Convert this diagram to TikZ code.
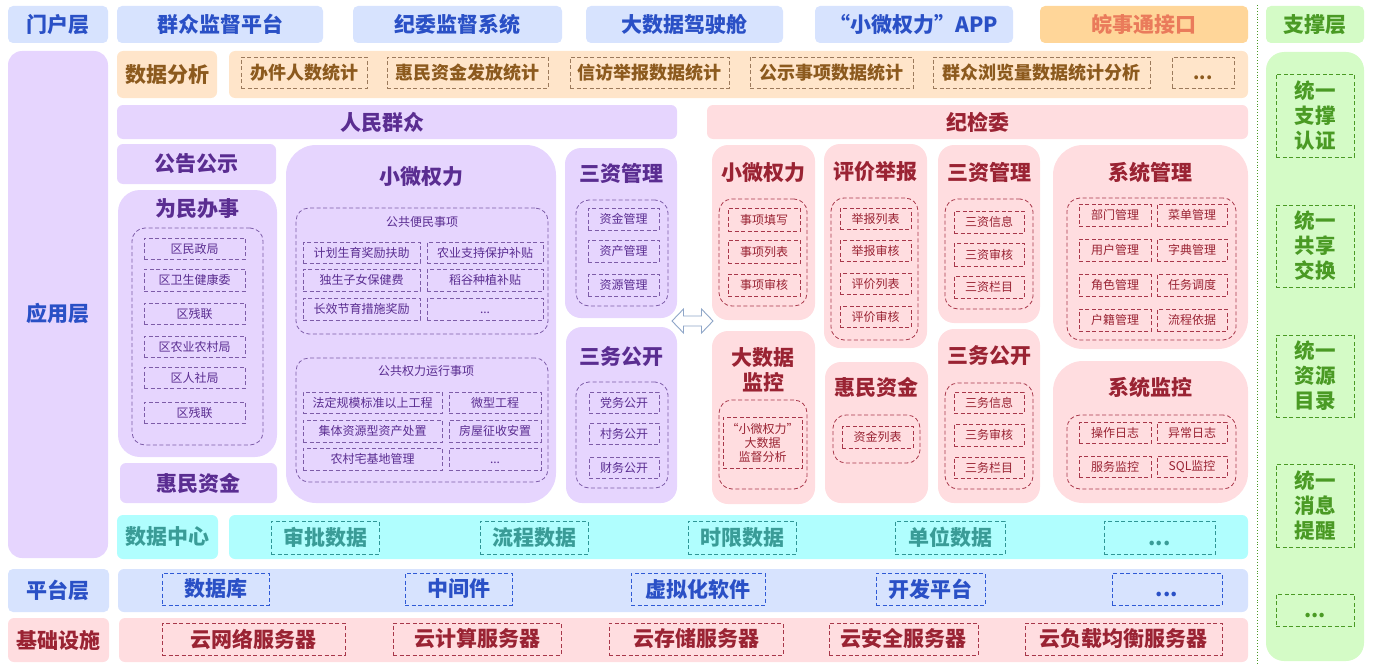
\documentclass[tikz,border=0pt]{standalone}
\usepackage{fontspec}
\setmainfont{Noto Sans CJK SC}
\definecolor{hblue}{HTML}{D7E3FE}
\definecolor{tblue}{HTML}{2A50C6}
\definecolor{dblue}{HTML}{2F5AD6}
\definecolor{peachf}{HTML}{FFE5CA}
\definecolor{tbrown}{HTML}{8C5A1E}
\definecolor{dbrown}{HTML}{9C7A5C}
\definecolor{lavf}{HTML}{E6D5FE}
\definecolor{tpurp}{HTML}{5A2D91}
\definecolor{dpurp}{HTML}{7D5CA8}
\definecolor{pinkf}{HTML}{FFDDE0}
\definecolor{tred}{HTML}{9A2333}
\definecolor{dred}{HTML}{A8374A}
\definecolor{cyanf}{HTML}{B0FEFE}
\definecolor{tteal}{HTML}{3A9C97}
\definecolor{dteal}{HTML}{2F9696}
\definecolor{greenf}{HTML}{D4FBC6}
\definecolor{tgreen}{HTML}{4A9A24}
\definecolor{orangef}{HTML}{FFD699}
\definecolor{torange}{HTML}{EA7B5B}
\definecolor{arrowc}{HTML}{8FA6C8}
\newcommand\ttlf{\bfseries\fontsize{21}{25}\selectfont}
\newcommand\mdf{\bfseries\fontsize{18}{22}\selectfont}
\newcommand\itf{\fontsize{12}{14.5}\selectfont}
\newcommand\dotsx{\vphantom{数}...}
\newcommand\bx[7]{%
  \pgfmathsetmacro\bw{#4-#2}\pgfmathsetmacro\bh{#5-#3}%
  \pgfmathsetmacro\bcx{(#2+#4)/2}\pgfmathsetmacro\bcy{(#3+#5)/2}%
  \node[base,#6,minimum width=\bw pt,minimum height=\bh pt] (#1) at (\bcx,\bcy) {#7};}
\tikzset{
  base/.style={inner sep=0pt,outer sep=0pt,align=center},
  hdr/.style={fill=hblue,rounded corners=5pt,text=tblue,font=\ttlf},
  lavbox/.style={fill=lavf,rounded corners=6pt},
  pinkbox/.style={fill=pinkf,rounded corners=6pt},
  ptitle/.style={base,text=tpurp,font=\ttlf},
  rtitle/.style={base,text=tred,font=\ttlf},
  dsh/.style={dash pattern=on 4pt off 2.5pt,line width=0.8pt},
  pin/.style={draw=dpurp,dsh,rounded corners=13pt},
  rin/.style={draw=dred,dsh,rounded corners=13pt},
  pitem/.style={draw=dpurp,dsh,text=tpurp,font=\itf},
  ritem/.style={draw=dred,dsh,text=tred,font=\itf},
  aitem/.style={draw=dbrown,dsh,text=tbrown,font=\mdf},
  citem/.style={draw=dteal,dsh,text=tteal,font=\ttlf},
  bitem/.style={draw=dblue,dsh,text=tblue,font=\ttlf},
  iitem/.style={draw=dred,dsh,text=tred,font=\ttlf},
  gitem/.style={draw=tgreen,dsh,text=tgreen,font=\bfseries\fontsize{20.5}{25}\selectfont},
}
\begin{document}
\begin{tikzpicture}[x=1pt,y=-1pt]
\useasboundingbox (0,0) rectangle (1373,669);
% ---------- portal layer ----------
\bx{mhc}{8}{6}{108}{43}{hdr}{门户层}
\bx{qz}{117}{6}{323}{43}{hdr}{群众监督平台}
\bx{jw}{353}{6}{562}{43}{hdr}{纪委监督系统}
\bx{dsj}{586}{6}{783}{43}{hdr}{大数据驾驶舱}
\bx{app}{815}{6}{1013}{43}{hdr}{“小微权力”APP}
\bx{wst}{1040}{6}{1248}{43}{hdr,fill=orangef,text=torange}{皖事通接口}
\bx{zcc}{1266}{6}{1364}{43}{hdr,fill=greenf,text=tgreen}{支撑层}
% ---------- separator ----------
\coordinate (sepT) at (1257,5);
\coordinate (sepB) at (1257,665);
\draw[tgreen,dotted,line width=0.9pt] (sepT) -- (sepB);
% ---------- support column ----------
\bx{zccol}{1266}{52}{1364}{661}{fill=greenf,rounded corners=18pt}{}
\bx{g1}{1276}{74}{1354}{157}{gitem}{统一\\支撑\\认证}
\bx{g2}{1276}{205}{1354}{287}{gitem}{统一\\共享\\交换}
\bx{g3}{1276}{335}{1354}{417}{gitem}{统一\\资源\\目录}
\bx{g4}{1276}{464}{1354}{547}{gitem}{统一\\消息\\提醒}
\bx{g5}{1276}{594}{1354}{626}{gitem}{\dotsx}
% ---------- application layer ----------
\bx{yyc}{8}{51}{108}{558}{fill=lavf,rounded corners=14pt}{}
\node[base,text=tblue,font=\ttlf] (yyct) at (58,313) {应用层};
\bx{sjfx}{117}{51}{217}{98}{fill=peachf,rounded corners=6pt,text=tbrown,font=\ttlf}{数据分析}
\bx{fxstrip}{229}{51}{1248}{98}{fill=peachf,rounded corners=6pt}{}
\bx{a1}{241}{57}{367}{88}{aitem}{办件人数统计}
\bx{a2}{387}{57}{548}{88}{aitem}{惠民资金发放统计}
\bx{a3}{570}{57}{729}{88}{aitem}{信访举报数据统计}
\bx{a4}{750}{57}{913}{88}{aitem}{公示事项数据统计}
\bx{a5}{933}{57}{1150}{88}{aitem}{群众浏览量数据统计分析}
\bx{a6}{1172}{57}{1234}{88}{aitem}{\dotsx}
\bx{rmqz}{117}{105}{677}{139}{lavbox}{}
\node[ptitle] (rmqzt) at (382,122) {人民群众};
\bx{jjw}{707}{105}{1248}{139}{pinkbox,text=tred,font=\ttlf}{纪检委}
% left column
\bx{ggs}{117}{144}{276}{184}{lavbox,text=tpurp,font=\ttlf}{公告公示}
\bx{wmbs}{118}{190}{277}{457}{fill=lavf,rounded corners=22pt}{}
\node[ptitle] (wmbst) at (197,209) {为民办事};
\bx{wmbsin}{132}{228}{263}{445}{pin}{}
\bx{w1}{144}{238}{245}{259}{pitem}{区民政局}
\bx{w2}{144}{269}{245}{291}{pitem}{区卫生健康委}
\bx{w3}{144}{303}{245}{324}{pitem}{区残联}
\bx{w4}{144}{336}{245}{357}{pitem}{区农业农村局}
\bx{w5}{144}{367}{245}{388}{pitem}{区人社局}
\bx{w6}{144}{402}{245}{423}{pitem}{区残联}
\bx{hmzj}{120}{463}{277}{503}{lavbox,text=tpurp,font=\ttlf}{惠民资金}
% small power (purple)
\bx{xwql}{286}{145}{556}{503}{fill=lavf,rounded corners=30pt}{}
\node[ptitle] (xwqlt) at (421,177) {小微权力};
\bx{bm}{296}{208}{548}{334}{pin}{}
\node[base,text=tpurp,font=\itf] (bmt) at (422,222) {公共便民事项};
\bx{b1}{303}{242}{420}{263}{pitem}{计划生育奖励扶助}
\bx{b2}{427}{242}{543}{263}{pitem}{农业支持保护补贴}
\bx{b3}{303}{269}{420}{291}{pitem}{独生子女保健费}
\bx{b4}{427}{269}{543}{291}{pitem}{稻谷种植补贴}
\bx{b5}{303}{298}{420}{320}{pitem}{长效节育措施奖励}
\bx{b6}{427}{298}{543}{320}{pitem}{\dotsx}
\bx{qy}{296}{358}{548}{482}{pin}{}
\node[base,text=tpurp,font=\itf] (qyt) at (426,371) {公共权力运行事项};
\bx{q1}{303}{392}{442}{413}{pitem}{法定规模标准以上工程}
\bx{q2}{449}{392}{541}{413}{pitem}{微型工程}
\bx{q3}{303}{420}{442}{442}{pitem}{集体资源型资产处置}
\bx{q4}{449}{420}{541}{442}{pitem}{房屋征收安置}
\bx{q5}{303}{448}{442}{470}{pitem}{农村宅基地管理}
\bx{q6}{449}{448}{541}{470}{pitem}{\dotsx}
% three assets (purple)
\bx{szp}{565}{148}{677}{318}{fill=lavf,rounded corners=16pt}{}
\node[ptitle] (szpt) at (621,173) {三资管理};
\bx{szpin}{576}{200}{668}{306}{pin}{}
\bx{sp1}{588}{208}{659}{230}{pitem}{资金管理}
\bx{sp2}{588}{240}{659}{262}{pitem}{资产管理}
\bx{sp3}{588}{274}{659}{296}{pitem}{资源管理}
\bx{swp}{566}{327}{677}{503}{fill=lavf,rounded corners=16pt}{}
\node[ptitle] (swpt) at (621,357) {三务公开};
\bx{swpin}{576}{382}{668}{488}{pin}{}
\bx{wp1}{589}{392}{659}{413}{pitem}{党务公开}
\bx{wp2}{589}{423}{659}{444}{pitem}{村务公开}
\bx{wp3}{589}{457}{659}{478}{pitem}{财务公开}
% double arrow
\coordinate (dac) at (692.5,321);
\draw[arrowc,fill=white,line width=0.9pt]
  ([xshift=-20.5pt]dac) -- ([xshift=-9pt,yshift=-12pt]dac) -- ([xshift=-9pt,yshift=-5pt]dac)
  -- ([xshift=9pt,yshift=-5pt]dac) -- ([xshift=9pt,yshift=-12pt]dac) -- ([xshift=20.5pt]dac)
  -- ([xshift=9pt,yshift=12pt]dac) -- ([xshift=9pt,yshift=5pt]dac)
  -- ([xshift=-9pt,yshift=5pt]dac) -- ([xshift=-9pt,yshift=12pt]dac) -- cycle;
% ---------- discipline committee (pink) ----------
\bx{rxw}{712}{145}{815}{320}{fill=pinkf,rounded corners=16pt}{}
\node[rtitle] (rxwt) at (763,173) {小微权力};
\bx{rxwin}{719}{199}{807}{306}{rin}{}
\bx{rx1}{728}{208}{800}{231}{ritem}{事项填写}
\bx{rx2}{728}{240}{800}{263}{ritem}{事项列表}
\bx{rx3}{728}{274}{800}{296}{ritem}{事项审核}
\bx{rdj}{712}{331}{815}{504}{fill=pinkf,rounded corners=16pt}{}
\node[rtitle] (rdjt) at (763,369.5) {大数据\\监控};
\bx{rdjin}{719}{400}{807}{489}{rin}{}
\bx{rd1}{723}{417}{802}{468}{ritem,font=\fontsize{12}{14}\selectfont}{“小微权力”\\大数据\\监督分析}
\bx{rpj}{824}{144}{927}{348}{fill=pinkf,rounded corners=16pt}{}
\node[rtitle] (rpjt) at (875,172) {评价举报};
\bx{rpjin}{831}{198}{918}{340}{rin}{}
\bx{rp1}{840}{208}{911}{229}{ritem}{举报列表}
\bx{rp2}{840}{240}{911}{261}{ritem}{举报审核}
\bx{rp3}{840}{273}{911}{294}{ritem}{评价列表}
\bx{rp4}{840}{306}{911}{327}{ritem}{评价审核}
\bx{rhm}{825}{362}{928}{503}{fill=pinkf,rounded corners=16pt}{}
\node[rtitle] (rhmt) at (876,387) {惠民资金};
\bx{rhmin}{833}{415}{920}{463}{rin}{}
\bx{rh1}{842}{426}{913}{448}{ritem}{资金列表}
\bx{rsz}{938}{145}{1040}{323}{fill=pinkf,rounded corners=16pt}{}
\node[rtitle] (rszt) at (989,172) {三资管理};
\bx{rszin}{945}{199}{1033}{309}{rin}{}
\bx{rs1}{954}{211}{1024}{233}{ritem}{三资信息}
\bx{rs2}{954}{243}{1024}{266}{ritem}{三资审核}
\bx{rs3}{954}{276}{1024}{298}{ritem}{三资栏目}
\bx{rsw}{938}{329}{1040}{503}{fill=pinkf,rounded corners=16pt}{}
\node[rtitle] (rswt) at (989,356) {三务公开};
\bx{rswin}{945}{383}{1033}{489}{rin}{}
\bx{rw1}{954}{392}{1024}{413}{ritem}{三务信息}
\bx{rw2}{954}{424}{1024}{446}{ritem}{三务审核}
\bx{rw3}{954}{457}{1024}{478}{ritem}{三务栏目}
\bx{rxt}{1053}{145}{1248}{349}{fill=pinkf,rounded corners=30pt}{}
\node[rtitle] (rxtt) at (1150,172) {系统管理};
\bx{rxtin}{1067}{198}{1236}{340}{rin}{}
\bx{m1}{1079}{204}{1151}{226}{ritem}{部门管理}
\bx{m2}{1157}{204}{1227}{226}{ritem}{菜单管理}
\bx{m3}{1079}{239}{1151}{261}{ritem}{用户管理}
\bx{m4}{1157}{239}{1227}{261}{ritem}{字典管理}
\bx{m5}{1079}{274}{1151}{296}{ritem}{角色管理}
\bx{m6}{1157}{274}{1227}{296}{ritem}{任务调度}
\bx{m7}{1079}{309}{1151}{331}{ritem}{户籍管理}
\bx{m8}{1157}{309}{1227}{331}{ritem}{流程依据}
\bx{rjk}{1053}{361}{1248}{503}{fill=pinkf,rounded corners=30pt}{}
\node[rtitle] (rjkt) at (1150,387) {系统监控};
\bx{rjkin}{1067}{415}{1236}{489}{rin}{}
\bx{k1}{1079}{422}{1151}{443}{ritem}{操作日志}
\bx{k2}{1157}{422}{1227}{443}{ritem}{异常日志}
\bx{k3}{1079}{456}{1151}{477}{ritem}{服务监控}
\bx{k4}{1157}{456}{1227}{477}{ritem}{SQL监控}
% ---------- data centre ----------
\bx{sjzx}{117}{515}{218}{559}{fill=cyanf,rounded corners=6pt,text=tteal,font=\ttlf}{数据中心}
\bx{zxstrip}{229}{515}{1248}{559}{fill=cyanf,rounded corners=6pt}{}
\bx{c1}{271}{521}{379}{554}{citem}{审批数据}
\bx{c2}{480}{521}{588}{554}{citem}{流程数据}
\bx{c3}{688}{521}{796}{554}{citem}{时限数据}
\bx{c4}{895}{521}{1005}{554}{citem}{单位数据}
\bx{c5}{1104}{521}{1215}{554}{citem}{\dotsx}
% ---------- platform layer ----------
\bx{ptc}{8}{569}{109}{612}{hdr}{平台层}
\bx{ptstrip}{118}{569}{1248}{612}{fill=hblue,rounded corners=6pt}{}
\bx{p1}{162}{573}{269}{605}{bitem}{数据库}
\bx{p2}{405}{573}{512}{605}{bitem}{中间件}
\bx{p3}{631}{573}{765}{605}{bitem}{虚拟化软件}
\bx{p4}{876}{573}{985}{605}{bitem}{开发平台}
\bx{p5}{1112}{573}{1222}{605}{bitem}{\dotsx}
% ---------- infrastructure ----------
\bx{jcss}{8}{618}{109}{662}{fill=pinkf,rounded corners=6pt,text=tred,font=\ttlf}{基础设施}
\bx{jcstrip}{119}{618}{1248}{662}{fill=pinkf,rounded corners=6pt}{}
\bx{i1}{162}{623}{345}{655}{iitem}{云网络服务器}
\bx{i2}{393}{623}{561}{655}{iitem}{云计算服务器}
\bx{i3}{609}{623}{783}{655}{iitem}{云存储服务器}
\bx{i4}{829}{623}{978}{655}{iitem}{云安全服务器}
\bx{i5}{1025}{623}{1222}{655}{iitem}{云负载均衡服务器}
\end{tikzpicture}
\end{document}
